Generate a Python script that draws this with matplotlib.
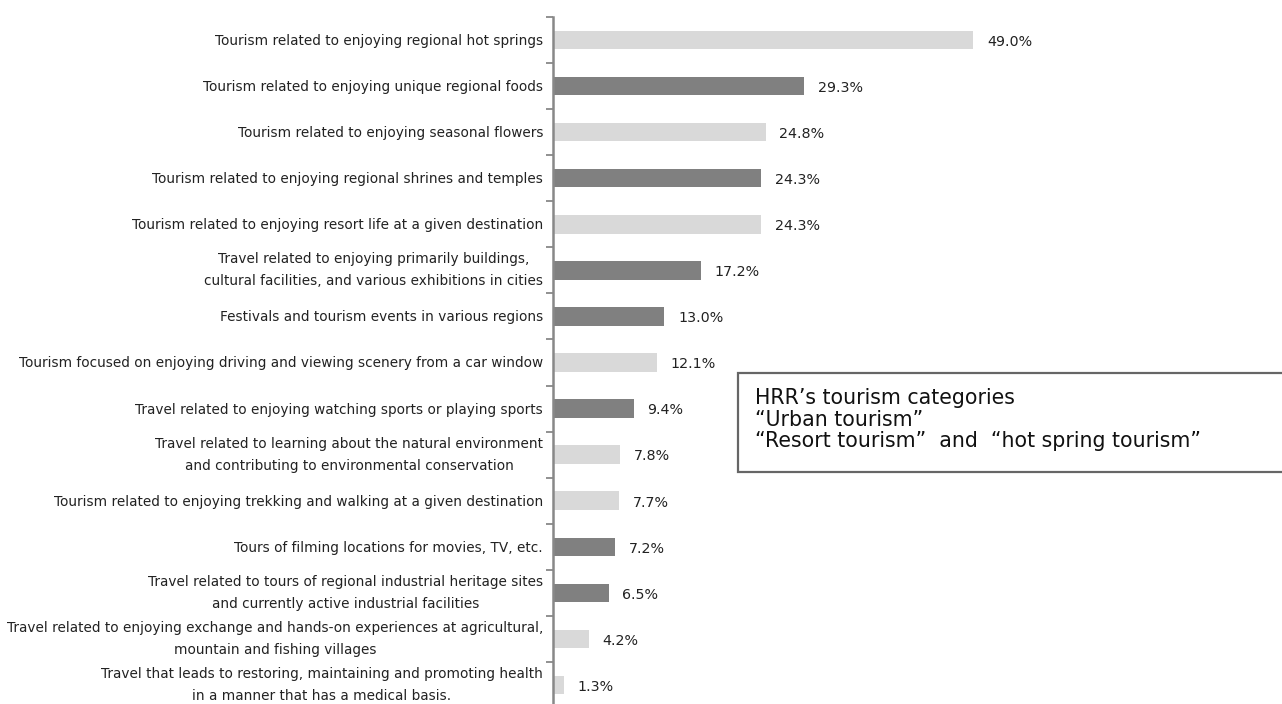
import matplotlib
matplotlib.use("Agg")
import matplotlib.pyplot as plt
from matplotlib.patches import Rectangle
from matplotlib.transforms import offset_copy

# survey result, share of respondents (%)
labels = [
    "Tourism related to enjoying regional hot springs",
    "Tourism related to enjoying unique regional foods",
    "Tourism related to enjoying seasonal flowers",
    "Tourism related to enjoying regional shrines and temples",
    "Tourism related to enjoying resort life at a given destination",
    "Travel related to enjoying primarily buildings,\ncultural facilities, and various exhibitions in cities",
    "Festivals and tourism events in various regions",
    "Tourism focused on enjoying driving and viewing scenery from a car window",
    "Travel related to enjoying watching sports or playing sports",
    "Travel related to learning about the natural environment\nand contributing to environmental conservation",
    "Tourism related to enjoying trekking and walking at a given destination",
    "Tours of filming locations for movies, TV, etc.",
    "Travel related to tours of regional industrial heritage sites\nand currently active industrial facilities",
    "Travel related to enjoying exchange and hands-on experiences at agricultural,\nmountain and fishing villages",
    "Travel that leads to restoring, maintaining and promoting health\nin a manner that has a medical basis.",
]
values = [49.0, 29.3, 24.8, 24.3, 24.3, 17.2, 13.0, 12.1, 9.4, 7.8, 7.7, 7.2, 6.5, 4.2, 1.3]
# True = urban tourism (dark), False = resort / hot spring tourism (light)
urban = [False, True, False, True, False, True, True, False, True, False, False, True, True, False, False]

box_lines = ["HRR\u2019s tourism categories",
             "\u201cUrban tourism\u201d",
             "\u201cResort tourism\u201d  and  \u201chot spring tourism\u201d"]

DARK = "#808080"
LIGHT = "#d9d9d9"

W, H = 1282, 704
fig = plt.figure(figsize=(W / 100, H / 100), dpi=100)
ax = fig.add_axes([553 / W, -4 / H, 729 / W, 691 / H])

ypos = list(range(len(values)))
colors = [DARK if u else LIGHT for u in urban]
ax.barh(ypos, values, height=0.4, color=colors, zorder=2)

for y, v in zip(ypos, values):
    ax.text(v + 1.6, y + 0.04, f"{v:.1f}%", va="center", ha="left", fontsize=10.3, color="#222222")

ax.set_xlim(0, 85)
ax.set_ylim(len(values) - 0.5, -0.5)

# category labels on the left
for y, lab in zip(ypos, labels):
    dy = 0 if "\n" in lab else -1
    tr = offset_copy(ax.get_yaxis_transform(), fig=fig, x=-10, y=dy, units="dots")
    ax.text(0, y, lab, transform=tr, ha="right", va="center", fontsize=9.8,
            color="#222222", multialignment="center", linespacing=1.75, clip_on=False)

# ticks at the category boundaries
ax.set_yticks([i - 0.5 for i in range(len(values) + 1)])
ax.set_yticklabels([])
ax.tick_params(axis="y", length=5, width=1.3, color="#888888", direction="out")

ax.set_xticks([])
for s in ["top", "right", "bottom"]:
    ax.spines[s].set_visible(False)
ax.spines["left"].set_color("#888888")
ax.spines["left"].set_linewidth(1.8)

# legend-like box on the right
box = Rectangle((738 / W, 1 - 472 / H), 560 / W, 99 / H, transform=fig.transFigure,
                facecolor="white", edgecolor="#666666", linewidth=1.6, zorder=5)
fig.patches.append(box)
for i, line in enumerate(box_lines):
    fig.text(755 / W, 1 - (404 + 21.5 * i) / H, line, fontsize=14.8, va="baseline", ha="left",
             color="#111111", zorder=6)

fig.savefig("out.png", dpi=100)
